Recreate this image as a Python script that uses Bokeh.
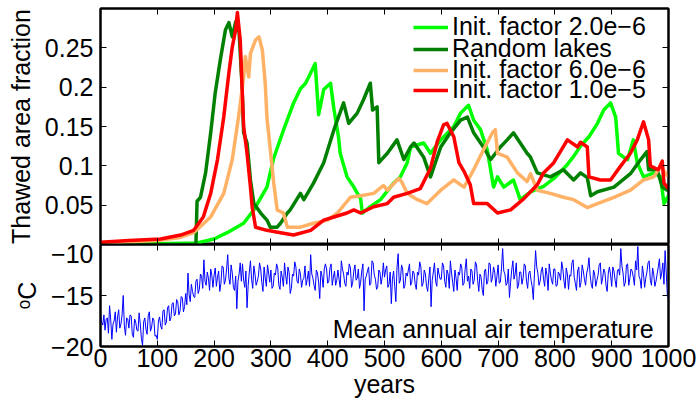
from bokeh.plotting import figure
from bokeh.layouts import column
from bokeh.models import (Range1d, FixedTicker, LinearAxis, Legend, LegendItem, Label,
                          CustomLabelingPolicy)
from bokeh.embed import file_html
from bokeh.resources import INLINE

FONT = "Liberation Sans"
FS = "25px"

# ---------------- data ----------------
x_ticks = [0, 100, 200, 300, 400, 500, 600, 700, 800, 900, 1000]
frac_ticks = [0.05, 0.1, 0.15, 0.2, 0.25]
frac_tick_labels = ["0.05", "0.1", "0.15", "0.2", "0.25"]
temp_ticks = [-20, -15, -10]
temp_tick_labels = ["\u221220", "\u221215", "\u221210"]

series_names = ["Init. factor 2.0e\u22126", "Random lakes",
                "Init. factor 6.0e\u22126", "Init. factor 1.0e\u22125"]

lg_years = [0, 100, 170, 200, 223, 252, 270, 293, 305, 322,
            340, 352, 361, 370, 378, 384, 393, 405, 411, 419,
            422, 434, 446, 458, 461, 475, 493, 516, 528, 540,
            546, 569, 581, 599, 622, 634, 648, 657, 669, 681,
            692, 699, 710, 727, 739, 757, 780, 800, 820, 833,
            845, 860, 875, 886, 898, 907, 912, 921, 928, 938,
            945, 956, 974, 986, 992, 1000]
lg_vals = [0.001, 0.001, 0.002, 0.007, 0.015, 0.027, 0.044, 0.073, 0.11, 0.145,
           0.18, 0.198, 0.205, 0.218, 0.23, 0.165, 0.197, 0.205, 0.172, 0.137,
           0.116, 0.086, 0.073, 0.058, 0.040, 0.048, 0.057, 0.078, 0.086, 0.104,
           0.124, 0.129, 0.116, 0.133, 0.15, 0.167, 0.177, 0.158, 0.146, 0.12,
           0.073, 0.086, 0.073, 0.082, 0.057, 0.067, 0.074, 0.085, 0.1, 0.112,
           0.125, 0.137, 0.154, 0.171, 0.18, 0.162, 0.116, 0.111, 0.108, 0.133,
           0.104, 0.086, 0.091, 0.086, 0.052, 0.062]

dg_years = [0, 168, 170, 176, 185, 194, 202, 211, 220, 226,
            232, 238, 244, 249, 252, 258, 264, 270, 282, 293,
            299, 311, 317, 329, 334, 352, 358, 375, 393, 411,
            428, 437, 452, 463, 475, 479, 487, 490, 505, 522,
            534, 546, 552, 569, 581, 599, 616, 634, 646, 657,
            674, 687, 704, 716, 727, 739, 751, 757, 769, 792,
            815, 833, 845, 857, 863, 875, 904, 933, 951, 962,
            965, 980, 989, 998, 1000]
dg_vals = [0.0, 0.0, 0.055, 0.06, 0.091, 0.142, 0.193, 0.235, 0.273, 0.282,
           0.264, 0.283, 0.27, 0.205, 0.142, 0.129, 0.082, 0.052, 0.04, 0.031,
           0.022, 0.022, 0.027, 0.04, 0.044, 0.065, 0.057, 0.078, 0.104, 0.146,
           0.18, 0.154, 0.167, 0.184, 0.205, 0.171, 0.175, 0.104, 0.116, 0.133,
           0.108, 0.124, 0.129, 0.111, 0.086, 0.124, 0.142, 0.158, 0.162, 0.142,
           0.124, 0.108, 0.124, 0.133, 0.142, 0.129, 0.116, 0.111, 0.091, 0.086,
           0.095, 0.082, 0.091, 0.085, 0.062, 0.067, 0.073, 0.09, 0.108, 0.118,
           0.095, 0.095, 0.073, 0.069, 0.07]

or_years = [0, 100, 140, 164, 194, 217, 232, 243, 252, 255,
            261, 264, 273, 279, 285, 290, 293, 299, 305, 311,
            322, 329, 352, 375, 400, 417, 440, 458, 481, 498,
            505, 525, 530, 540, 558, 575, 599, 622, 640, 657,
            674, 690, 695, 699, 716, 734, 751, 757, 769, 792,
            815, 833, 857, 875, 904, 933, 956, 974, 986, 1000]
or_vals = [0.002, 0.005, 0.009, 0.015, 0.035, 0.065, 0.108, 0.162, 0.213, 0.239,
           0.213, 0.243, 0.26, 0.264, 0.247, 0.205, 0.162, 0.12, 0.078, 0.044,
           0.04, 0.022, 0.022, 0.027, 0.031, 0.04, 0.06, 0.062, 0.065, 0.075,
           0.069, 0.084, 0.08, 0.065, 0.057, 0.052, 0.069, 0.082, 0.073, 0.095,
           0.12, 0.142, 0.146, 0.116, 0.111, 0.091, 0.08, 0.09, 0.069, 0.065,
           0.06, 0.057, 0.047, 0.052, 0.06, 0.069, 0.082, 0.086, 0.099, 0.086]

rd_years = [0, 50, 106, 141, 164, 181, 194, 206, 217, 226,
            232, 238, 241, 246, 249, 252, 258, 264, 267, 273,
            293, 317, 340, 370, 393, 411, 434, 446, 458, 481,
            505, 516, 540, 563, 581, 593, 604, 610, 622, 631,
            640, 651, 657, 681, 699, 722, 745, 769, 780, 798,
            822, 840, 845, 857, 860, 880, 898, 915, 933, 945,
            956, 965, 968, 982, 989, 992, 1000]
rd_vals = [0.003, 0.005, 0.007, 0.012, 0.018, 0.035, 0.065, 0.108, 0.162, 0.218,
           0.251, 0.273, 0.295, 0.26, 0.205, 0.15, 0.116, 0.073, 0.048, 0.022,
           0.018, 0.015, 0.012, 0.018, 0.031, 0.035, 0.04, 0.044, 0.04, 0.048,
           0.052, 0.06, 0.065, 0.071, 0.097, 0.131, 0.152, 0.154, 0.137, 0.104,
           0.093, 0.076, 0.052, 0.052, 0.04, 0.044, 0.058, 0.076, 0.091, 0.104,
           0.133, 0.124, 0.13, 0.124, 0.086, 0.082, 0.082, 0.099, 0.116, 0.133,
           0.156, 0.133, 0.1, 0.095, 0.106, 0.078, 0.071]

# mean annual air temperature, every 2 years (0 .. 1000), one row = 50 years
temp_years = list(range(0, 1001, 2))
temp_vals = [
    -16.8, -17.6, -17.9, -16.9, -18.4, -17.3, -17.2, -18.7, -16.0, -17.4, -19.3, -17.8, -17.5,
    -16.6, -18.6, -17.1, -16.4, -18.2, -17.8, -16.9, -15.0, -18.0, -18.9, -17.2, -17.3,
    -18.2, -16.9, -17.0, -18.8, -19.1, -17.3, -17.6, -18.4, -18.5, -16.7, -17.8, -19.2, -19.9,
    -17.6, -17.2, -18.3, -18.8, -17.0, -16.6, -18.5, -18.1, -17.2, -17.4, -19.0, -18.9,
    -19.3, -17.5, -17.1, -18.0, -18.3, -16.5, -16.4, -17.9, -17.6, -16.2, -16.0, -17.5, -17.2,
    -15.8, -15.7, -17.0, -16.8, -15.4, -15.6, -16.9, -16.5, -15.1, -15.2, -16.6, -16.1,
    -14.8, -15.9, -12.8, -14.9, -15.6, -13.9, -14.6, -15.1, -15.2, -13.6, -13.4, -14.8, -14.4,
    -12.9, -13.1, -14.3, -11.5, -13.6, -14.0, -12.7, -13.3, -14.5, -12.4, -13.0, -14.2,
    -13.0, -12.3, -14.1, -13.2, -12.6, -14.6, -13.8, -12.1, -12.2, -13.9, -13.5, -12.4, -11.0,
    -13.3, -13.9, -12.0, -12.8, -14.2, -14.5, -13.1, -16.3, -13.6, -12.9, -11.8, -13.6,
    -11.9, -13.5, -14.2, -12.6, -16.2, -14.0, -12.7, -11.6, -13.4, -14.3, -12.1, -12.9, -14.0,
    -13.6, -13.1, -11.8, -12.4, -13.7, -14.6, -12.2, -13.3, -14.1, -12.0, -12.8, -13.7,
    -12.5, -14.3, -14.1, -12.8, -13.0, -11.9, -12.3, -14.0, -14.4, -12.6, -13.2, -14.1, -11.8,
    -13.0, -13.9, -12.2, -12.7, -14.8, -14.3, -12.9, -13.1, -11.7, -12.2, -13.6, -13.8,
    -12.4, -12.9, -14.2, -13.5, -13.3, -12.1, -14.0, -13.4, -12.6, -14.1, -11.0, -12.9, -13.3,
    -14.0, -14.5, -12.5, -12.8, -13.7, -15.3, -12.6, -13.1, -14.2, -12.4, -11.9, -12.4,
    -13.8, -13.6, -12.3, -11.9, -14.0, -13.2, -12.6, -14.0, -13.5, -12.5, -13.4, -14.2, -11.6,
    -12.4, -12.9, -13.8, -14.1, -12.7, -13.0, -11.9, -12.3, -14.2, -13.7, -12.6, -12.0,
    -13.5, -13.3, -12.4, -14.3, -13.7, -12.6, -11.9, -16.5, -13.4, -13.1, -12.6, -12.2, -14.0,
    -13.8, -11.6, -11.8, -13.0, -13.4, -14.4, -14.2, -12.5, -12.7, -13.9, -13.2, -11.8,
    -13.2, -12.5, -12.1, -14.2, -13.9, -12.7, -15.8, -13.4, -12.6, -14.1, -15.6, -12.3, -10.9,
    -13.8, -13.5, -12.0, -12.4, -14.3, -14.0, -12.8, -13.1, -12.5, -11.9, -14.0, -13.7,
    -12.6, -12.8, -13.9, -14.4, -12.7, -13.0, -11.7, -12.2, -14.1, -13.8, -12.5, -12.9, -14.1,
    -14.6, -13.3, -12.2, -16.1, -13.5, -12.7, -11.8, -13.6, -14.1, -12.3, -12.9, -13.4,
    -13.4, -11.8, -12.1, -13.6, -14.2, -12.5, -12.9, -14.3, -11.6, -12.8, -13.7, -14.6, -12.5,
    -13.3, -14.5, -12.7, -13.0, -11.9, -12.2, -14.0, -13.8, -12.4, -11.4, -13.6, -13.1,
    -14.3, -12.4, -12.6, -13.9, -13.5, -11.7, -12.0, -13.5, -14.6, -12.9, -13.2, -14.4, -15.0,
    -12.6, -12.4, -13.9, -13.6, -11.8, -11.9, -13.7, -13.3, -12.2, -12.7, -14.1, -13.1,
    -12.0, -13.8, -13.7, -12.3, -10.4, -12.6, -12.9, -14.0, -13.8, -12.4, -15.2, -13.7, -12.5,
    -11.6, -13.4, -12.9, -11.8, -14.3, -14.0, -12.7, -12.7, -13.9, -13.3, -11.9, -12.1,
    -13.6, -14.3, -12.8, -12.6, -13.5, -14.1, -15.4, -12.9, -10.6, -12.2, -12.8, -14.0, -13.6,
    -12.6, -12.2, -13.4, -14.1, -12.3, -13.0, -14.5, -11.9, -12.8, -13.5, -13.9, -12.4,
    -12.4, -14.1, -14.0, -12.7, -12.9, -13.5, -11.7, -12.4, -13.6, -14.3, -12.3, -12.9, -14.4,
    -13.0, -13.1, -11.8, -11.5, -13.2, -13.8, -14.5, -12.6, -12.2, -14.2, -13.7, -12.0,
    -12.6, -13.4, -14.0, -12.8, -12.3, -11.3, -13.0, -13.9, -14.3, -12.5, -12.9, -14.1, -13.5,
    -13.0, -12.0, -11.8, -13.9, -13.3, -12.4, -12.7, -14.0, -14.6, -12.8, -12.2, -13.0,
    -14.1, -12.2, -12.6, -13.5, -14.2, -12.6, -12.4, -13.0, -10.4, -12.1, -12.8, -14.1, -13.7,
    -12.0, -11.9, -14.0, -13.3, -12.4, -12.6, -13.2, -14.0, -11.6, -12.5, -10.2, -13.1,
    -13.4, -14.3, -12.1, -12.9, -14.2, -13.3, -12.7, -11.8, -11.6, -13.5, -14.0, -12.3, -12.9,
    -14.1, -13.6, -12.9, -12.2, -11.4, -13.4, -12.8, -11.8, -13.9, -10.6, -12.7, -15.0,
    -15.3,
]

colors = ["#00ff00", "#008000", "#ffb266", "#ff0000"]

hide_labels = CustomLabelingPolicy(code="for (const i of indices) indices.unset(i)")


def style_axis(ax, show_labels):
    ax.axis_line_color = "black"
    ax.axis_line_width = 2
    ax.major_tick_in = 6
    ax.major_tick_out = 0
    ax.major_tick_line_color = "black"
    ax.major_tick_line_width = 1
    ax.minor_tick_line_color = None
    ax.major_label_text_font = FONT
    ax.axis_label_text_font = FONT
    ax.axis_label_text_font_style = "normal"
    ax.axis_label_text_color = "black"
    ax.major_label_text_color = "black"
    if show_labels:
        ax.major_label_text_font_size = FS
        ax.axis_label_text_font_size = FS
        ax.major_label_standoff = 7
    else:
        ax.major_label_policy = hide_labels
        ax.major_label_text_font_size = "0px"
        ax.major_label_standoff = 0
        ax.axis_label = None


def base_fig(y_range, frame_h, top, bottom):
    p = figure(frame_width=568, frame_height=frame_h,
               x_range=x_range, y_range=y_range,
               output_backend="svg", toolbar_location=None,
               min_border_left=100, min_border_right=30,
               min_border_top=top, min_border_bottom=bottom,
               background_fill_color="white", border_fill_color="white")
    p.grid.visible = False
    p.outline_line_color = "black"
    p.outline_line_width = 2
    p.outline_line_alpha = 1
    return p


x_range = Range1d(0, 1000)

# ---------------- top panel ----------------
p1 = base_fig(Range1d(0, 0.30), 236, 8, 0)
renderers = []
for yrs, vals, c in [(lg_years, lg_vals, colors[0]), (dg_years, dg_vals, colors[1]),
                     (or_years, or_vals, colors[2]), (rd_years, rd_vals, colors[3])]:
    r = p1.line(yrs, vals, line_color=c, line_width=3.5, line_join="round")
    renderers.append(r)

p1.yaxis.ticker = FixedTicker(ticks=frac_ticks)
p1.yaxis.major_label_overrides = dict(zip(frac_ticks, frac_tick_labels))
p1.yaxis.axis_label = "Thawed area fraction"
p1.yaxis.axis_label_standoff = 7
style_axis(p1.yaxis[0], True)
p1.xaxis.ticker = FixedTicker(ticks=x_ticks)
style_axis(p1.xaxis[0], False)
ax_top = LinearAxis(ticker=FixedTicker(ticks=x_ticks))
style_axis(ax_top, False)
p1.add_layout(ax_top, "above")
ax_right = LinearAxis(ticker=FixedTicker(ticks=frac_ticks))
style_axis(ax_right, False)
p1.add_layout(ax_right, "right")

# one single-row legend per series, stacked tightly like the reference
legend_rows_y = [203, 181, 160, 140]
for name, r, ly in zip(series_names, renderers, legend_rows_y):
    lg = Legend(items=[LegendItem(label=name, renderers=[r])],
                location=(313, ly), glyph_width=35, glyph_height=20, label_standoff=4,
                spacing=0, padding=0, margin=0,
                label_text_font=FONT, label_text_font_size=FS, label_text_color="black",
                border_line_alpha=0, background_fill_alpha=0)
    p1.add_layout(lg, "center")

# ---------------- bottom panel ----------------
p2 = base_fig(Range1d(-20, -10), 102, 0, 0)
p2.line(temp_years, temp_vals, line_color="#0000ff", line_width=1)
p2.yaxis.ticker = FixedTicker(ticks=temp_ticks)
p2.yaxis.major_label_overrides = dict(zip(temp_ticks, temp_tick_labels))
p2.yaxis.axis_label = "\u1d52C"
p2.yaxis.axis_label_standoff = 7
style_axis(p2.yaxis[0], True)
p2.xaxis.ticker = FixedTicker(ticks=x_ticks)
p2.xaxis.axis_label = "years"
style_axis(p2.xaxis[0], True)
p2.xaxis.major_label_standoff = 2
p2.xaxis.axis_label_standoff = 0
ax_top2 = LinearAxis(ticker=FixedTicker(ticks=x_ticks))
style_axis(ax_top2, False)
p2.add_layout(ax_top2, "above")
ax_right2 = LinearAxis(ticker=FixedTicker(ticks=temp_ticks))
style_axis(ax_right2, False)
p2.add_layout(ax_right2, "right")

p2.add_layout(Label(x=974, y=-18.3, text="Mean annual air temperature",
                    text_align="right", text_baseline="alphabetic",
                    text_font=FONT, text_font_size=FS, text_color="black"))

layout = column(p1, p2, spacing=0)
open("out.html", "w").write(file_html(layout, INLINE))
